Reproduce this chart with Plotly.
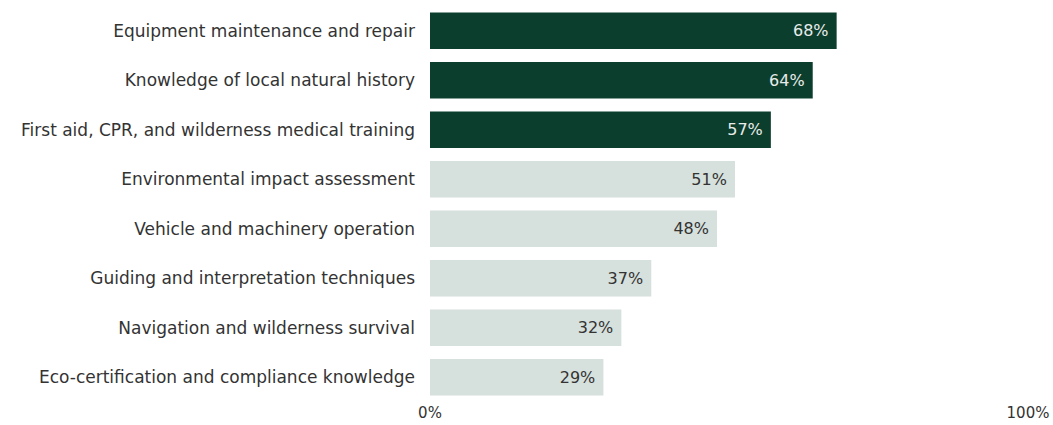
import plotly.graph_objects as go

# Skills ranked by share of respondents (%)
skills = [
    "Equipment maintenance and repair",
    "Knowledge of local natural history",
    "First aid, CPR, and wilderness medical training",
    "Environmental impact assessment",
    "Vehicle and machinery operation",
    "Guiding and interpretation techniques",
    "Navigation and wilderness survival",
    "Eco-certification and compliance knowledge",
]
shares = [68, 64, 57, 51, 48, 37, 32, 29]
highlighted = [True, True, True, False, False, False, False, False]

tick_values = [0, 100]
tick_labels = ["0%", "100%"]

DARK = "#0c3e2e"
LIGHT = "#d6e0dc"
FONT = "DejaVu Sans"

bar_colors = [DARK if h else LIGHT for h in highlighted]
text_colors = ["#e8ece9" if h else "#333333" for h in highlighted]

fig = go.Figure(
    go.Bar(
        x=shares,
        y=skills,
        orientation="h",
        marker=dict(color=bar_colors, line=dict(width=0)),
        text=[f"{v}% " for v in shares],
        textposition="inside",
        insidetextanchor="end",
        textfont=dict(family=FONT, size=16, color=text_colors),
        cliponaxis=False,
        hoverinfo="skip",
    )
)

fig.update_layout(
    width=1053,
    height=425,
    margin=dict(l=430, r=25, t=6, b=23),
    paper_bgcolor="white",
    plot_bgcolor="white",
    bargap=0.26,
    showlegend=False,
    font=dict(family=FONT, size=16, color="#333333"),
    uniformtext=dict(mode=False),
)

fig.update_xaxes(
    range=[0, 100],
    tickvals=tick_values,
    ticktext=tick_labels,
    showgrid=False,
    zeroline=False,
    showline=False,
    ticks="",
    automargin=False,
    tickfont=dict(family=FONT, size=15, color="#333333"),
    fixedrange=True,
)

fig.update_yaxes(
    autorange="reversed",
    showgrid=False,
    zeroline=False,
    showline=False,
    ticks="",
    automargin=False,
    ticklabelstandoff=14,
    tickfont=dict(family=FONT, size=17, color="#333333"),
    fixedrange=True,
)

fig.write_html("out.html", config={"displayModeBar": False})
